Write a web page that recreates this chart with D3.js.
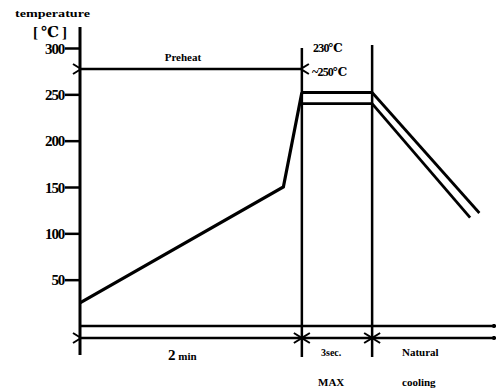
<!DOCTYPE html>
<html><head><meta charset="utf-8">
<script src="https://cdn.jsdelivr.net/npm/d3@7"></script>
<style>body{margin:0;background:#fff}svg{display:block}text{font-family:"Liberation Serif","DejaVu Serif",serif;font-weight:bold;fill:#000}</style>
</head><body><svg id="c" width="496" height="391"></svg>
<script>
// ---- data ----
const yTicks = [50, 100, 150, 200, 250, 300];
const preheatTime = [0, 110, 120];          // time units (preheat ends at 2 min = 120)
const preheatTemp = [25, 150, 252];
const solderTime = [120, 158];              // soldering window
const solderTemps = [252, 240];             // upper / lower plateau
const coolUpperTime = [158, 216], coolUpperTemp = [252, 122];
const coolLowerTime = [158, 211], coolLowerTemp = [240, 117];
const phaseBounds = [0, 120, 158, 225];
const labels = {yTitle: "temperature", yUnit: "[℃]", preheat: "Preheat", solderA: "230℃", solderB: "~250℃",
  p1a: "2", p1b: " min", p2a: "3sec.", p2b: "MAX", p3a: "Natural", p3b: "cooling"};

const svg = d3.select("#c");
const x = d3.scaleLinear().domain([0, 225]).range([80, 496]);
const y = d3.scaleLinear().domain([0, 300]).range([326, 48]);

const defs = svg.append("defs");
defs.append("marker").attr("id","arr").attr("viewBox","-1 -6 10 12").attr("refX",0).attr("refY",0)
  .attr("markerWidth",10).attr("markerHeight",12).attr("markerUnits","userSpaceOnUse").attr("orient","auto-start-reverse")
  .append("path").attr("d","M8,-5 L0,0 L8,5").attr("fill","none").attr("stroke","#000").attr("stroke-width",2);
defs.append("marker").attr("id","dot").attr("viewBox","-3 -3 6 6").attr("markerWidth",5).attr("markerHeight",5)
  .attr("markerUnits","userSpaceOnUse").append("circle").attr("r",2.5).attr("fill","#000");

const line = d3.line().x(d => x(d[0])).y(d => y(d[1]));
const g = svg.append("g");

// y axis
const yAxis = d3.axisLeft(y).tickValues(yTicks).tickSize(15).tickPadding(1).tickFormat(d3.format("d"));
const ya = g.append("g").attr("transform", `translate(${x(0)},0)`).call(yAxis);
ya.select(".domain").remove();
ya.selectAll(".tick line").attr("stroke","#000").attr("stroke-width",2.5);
ya.selectAll(".tick text").attr("font-size",15).attr("letter-spacing",-1.2).attr("dy","0.35em")
  .style("font-family","'Liberation Serif',serif").style("font-weight","bold");
g.append("line").attr("x1",x(0)).attr("x2",x(0)).attr("y1",27).attr("y2",355).attr("stroke","#000").attr("stroke-width",3);

// vertical phase bounds
g.append("line").attr("x1",x(phaseBounds[1])).attr("x2",x(phaseBounds[1])).attr("y1",48).attr("y2",357).attr("stroke","#000").attr("stroke-width",2.5);
g.append("line").attr("x1",x(phaseBounds[2])).attr("x2",x(phaseBounds[2])).attr("y1",45).attr("y2",357).attr("stroke","#000").attr("stroke-width",2.5);

// x axis line (0 level) and dimension line
g.append("line").attr("x1",x(0)).attr("x2",x(phaseBounds[3])-2).attr("y1",y(0)).attr("y2",y(0))
  .attr("stroke","#000").attr("stroke-width",2.5).attr("marker-end","url(#dot)");
const dimY = 338;
g.append("line").attr("x1",x(phaseBounds[0])+1).attr("x2",x(phaseBounds[1])).attr("y1",dimY).attr("y2",dimY)
  .attr("stroke","#000").attr("stroke-width",2.5).attr("marker-start","url(#arr)").attr("marker-end","url(#arr)");
g.append("line").attr("x1",x(phaseBounds[1])).attr("x2",x(phaseBounds[2])).attr("y1",dimY).attr("y2",dimY)
  .attr("stroke","#000").attr("stroke-width",2.5).attr("marker-start","url(#arr)").attr("marker-end","url(#arr)");
g.append("line").attr("x1",x(phaseBounds[2])).attr("x2",x(phaseBounds[3])-2).attr("y1",dimY).attr("y2",dimY)
  .attr("stroke","#000").attr("stroke-width",2.5).attr("marker-start","url(#arr)").attr("marker-end","url(#dot)");

// preheat dimension line
g.append("line").attr("x1",x(phaseBounds[0])+1).attr("x2",x(phaseBounds[1])-1).attr("y1",69).attr("y2",69)
  .attr("stroke","#000").attr("stroke-width",2.5).attr("marker-start","url(#arr)").attr("marker-end","url(#arr)");

// profile
const pre = preheatTime.map((t,i)=>[t, preheatTemp[i]]);
g.append("path").attr("d", line(pre)).attr("fill","none").attr("stroke","#000").attr("stroke-width",3.2).attr("stroke-linejoin","miter");
solderTemps.forEach(v => {
  g.append("path").attr("d", line(solderTime.map(t=>[t,v]))).attr("fill","none").attr("stroke","#000").attr("stroke-width",2.8);
});
g.append("path").attr("d", line(coolUpperTime.map((t,i)=>[t,coolUpperTemp[i]]))).attr("fill","none").attr("stroke","#000").attr("stroke-width",2.8);
g.append("path").attr("d", line(coolLowerTime.map((t,i)=>[t,coolLowerTemp[i]]))).attr("fill","none").attr("stroke","#000").attr("stroke-width",2.8);

// texts
g.append("text").attr("x",15).attr("y",17).attr("font-size",11).attr("textLength",75).attr("lengthAdjust","spacingAndGlyphs").text(labels.yTitle);
g.append("text").attr("x",33).attr("y",37).attr("font-size",15).attr("textLength",34).attr("lengthAdjust","spacing").text(labels.yUnit);
g.append("text").attr("x",(x(0)+x(120))/2-8).attr("y",61).attr("font-size",11).attr("text-anchor","middle").text(labels.preheat);
g.append("text").attr("x",313).attr("y",52).attr("font-size",12).attr("letter-spacing",-0.8).text(labels.solderA);
g.append("text").attr("x",312).attr("y",76).attr("font-size",12).attr("letter-spacing",-0.8).text(labels.solderB);
const t1 = g.append("text").attr("x",168).attr("y",360);
t1.append("tspan").attr("font-size",15).text(labels.p1a);
t1.append("tspan").attr("font-size",11).text(labels.p1b);
g.append("text").attr("x",321).attr("y",356).attr("font-size",10).text(labels.p2a);
g.append("text").attr("x",318).attr("y",386).attr("font-size",11).text(labels.p2b);
g.append("text").attr("x",402).attr("y",356).attr("font-size",11).text(labels.p3a);
g.append("text").attr("x",402).attr("y",386).attr("font-size",11).text(labels.p3b);
</script></body></html>
